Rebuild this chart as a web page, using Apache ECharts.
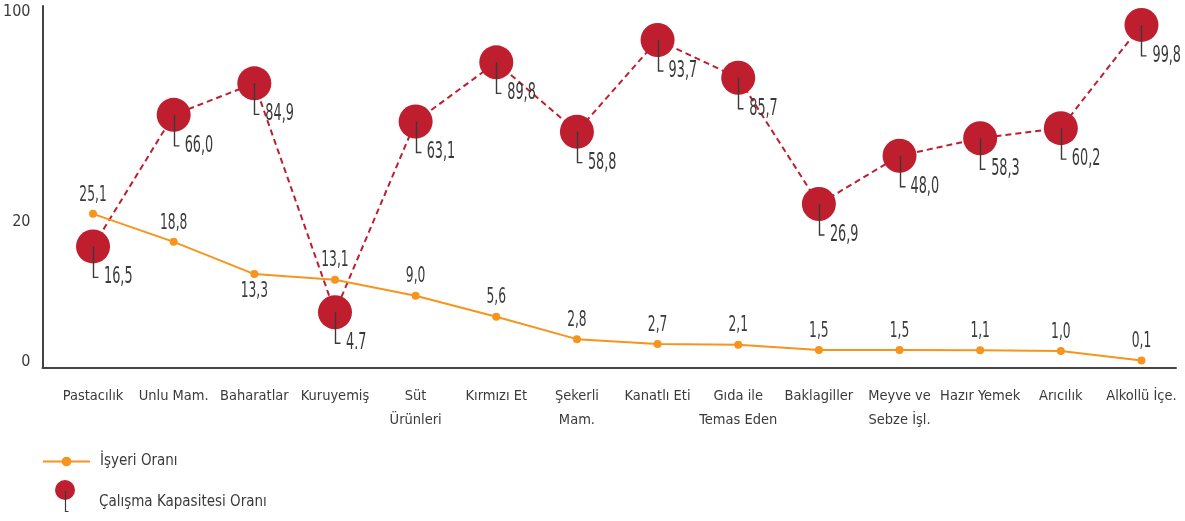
<!DOCTYPE html>
<html>
<head>
<meta charset="utf-8">
<title>İşyeri ve Çalışma Kapasitesi Oranı</title>
<script src="https://cdn.jsdelivr.net/npm/echarts@6/dist/echarts.min.js"></script>
<style>
    html, body { margin: 0; padding: 0; background: #fff; }
    #chart { width: 1185px; height: 521px; }
</style>
</head>
<body>
<div id="chart"></div>
<script>
    var categories = ['Pastacılık', 'Unlu Mam.', 'Baharatlar', 'Kuruyemiş', 'Süt\nÜrünleri', 'Kırmızı Et', 'Şekerli\nMam.',
        'Kanatlı Eti', 'Gıda ile\nTemas Eden', 'Baklagiller', 'Meyve ve\nSebze İşl.', 'Hazır Yemek', 'Arıcılık', 'Alkollü İçe.'];

    // İşyeri Oranı: printed values, and the heights the points sit at on the drawn axis
    var shopLabels = ['25,1', '18,8', '13,3', '13,1', '9,0', '5,6', '2,8', '2,7', '2,1', '1,5', '1,5', '1,1', '1,0', '0,1'];
    var shopHeights = [42.3, 34.3, 25.1, 23.5, 18.9, 12.9, 6.5, 5.1, 4.9, 3.4, 3.4, 3.3, 3.1, 0.4];

    // Çalışma Kapasitesi Oranı
    var capLabels = ['16,5', '66,0', '84,9', '4.7', '63,1', '89,8', '58,8', '93,7', '85,7', '26,9', '48,0', '58,3', '60,2', '99,8'];
    var capHeights = [33.0, 70.6, 79.6, 14.2, 68.7, 85.6, 65.8, 92.0, 81.2, 45.1, 58.9, 63.9, 66.8, 96.3];

    // y axis: where the printed ticks sit, and what they say
    var yTickValues = [0, 40, 100];
    var yTickLabels = ['0', '20', '100'];

    var FONT = "'Liberation Sans Narrow', 'DejaVu Sans Condensed', sans-serif";
    var ORANGE = '#f7941d';
    var RED = '#be1e2d';
    var INK = '#3a3a3a';

    var chart = echarts.init(document.getElementById('chart'));

    var below = [2]; // Baharatlar label goes under its point

    function shopText(params, api) {
        var p = api.coord([api.value(0), api.value(1)]);
        var i = params.dataIndex;
        var down = below.indexOf(i) >= 0;
        return {
            type: 'text',
            x: p[0],
            y: p[1] + (down ? 17 : -19),
            scaleX: 0.62,
            style: {
                text: shopLabels[i], fontSize: 22, fontFamily: FONT, fill: INK,
                align: 'center', verticalAlign: 'middle'
            }
        };
    }

    function capCallout(params, api) {
        var p = api.coord([api.value(0), api.value(1)]);
        var i = params.dataIndex;
        var x = Math.round(p[0]) + 0.5;
        return {
            type: 'group',
            children: [
                {
                    type: 'polyline',
                    shape: { points: [[x, p[1]], [x, p[1] + 31], [x + 5, p[1] + 31]] },
                    style: { stroke: INK, lineWidth: 1.4, fill: null }
                },
                {
                    type: 'text',
                    x: p[0] + 11,
                    y: p[1] + 31,
                    scaleX: 0.62,
                    style: {
                        text: capLabels[i], fontSize: 23, fontFamily: FONT, fill: INK,
                        align: 'left', verticalAlign: 'middle'
                    }
                }
            ]
        };
    }

    var capIconSvg = '<svg xmlns="http://www.w3.org/2000/svg" width="47" height="46" viewBox="0 0 47 46">' +
        '<circle cx="23" cy="11" r="10" fill="' + RED + '"/>' +
        '<path d="M23.5 12V32.5H26.5" stroke="' + INK + '" stroke-width="1.2" fill="none"/></svg>';
    var capIcon = 'image://data:image/svg+xml;charset=utf-8,' + encodeURIComponent(capIconSvg);

    var shopPoints = shopHeights.map(function (v, i) { return [i, v]; });
    var capPoints = capHeights.map(function (v, i) { return [i, v]; });

    var option = {
        animation: false,
        grid: [
            { left: 52.7, right: 3.2, top: 6, bottom: 153.5 },
            { left: 42, right: 9, top: 6, bottom: 153.5 }
        ],
        legend: [
            {
                data: ['İşyeri Oranı'],
                left: 42, top: 454, padding: 0,
                itemWidth: 47, itemHeight: 12,
                textStyle: { fontSize: 15, fontFamily: FONT, color: INK, padding: [0, 0, 0, 5] }
            },
            {
                data: [{ name: 'Çalışma Kapasitesi Oranı', icon: capIcon }],
                left: 42, top: 479, padding: 0,
                itemWidth: 47, itemHeight: 46,
                textStyle: { fontSize: 15, fontFamily: FONT, color: INK, padding: [0, 0, 0, 5] }
            }
        ],
        xAxis: [
            {
                type: 'category',
                gridIndex: 0,
                data: categories,
                axisLine: { show: false },
                axisTick: { show: false },
                axisLabel: {
                    interval: 0, margin: 16, fontSize: 14.5, lineHeight: 24.5,
                    color: INK, fontFamily: FONT
                }
            },
            {
                type: 'value',
                gridIndex: 1,
                min: 0, max: 1,
                axisLine: { show: true, onZero: false, lineStyle: { color: '#444', width: 2 } },
                axisTick: { show: false },
                axisLabel: { show: false },
                splitLine: { show: false }
            }
        ],
        yAxis: [
            {
                type: 'value',
                gridIndex: 0,
                min: -1.6, max: 101.7,
                show: false
            },
            {
                type: 'value',
                gridIndex: 1,
                min: -1.6, max: 101.7,
                axisLine: { show: true, onZero: false, lineStyle: { color: '#444', width: 2 } },
                axisTick: { show: false },
                splitLine: { show: false },
                axisLabel: {
                    customValues: yTickValues,
                    margin: 12, fontSize: 16, color: INK, fontFamily: FONT,
                    formatter: function (v) {
                        var k = yTickValues.indexOf(v);
                        return k < 0 ? '' : yTickLabels[k];
                    }
                }
            }
        ],
        series: [
            {
                name: 'Çalışma Kapasitesi Oranı',
                type: 'line',
                xAxisIndex: 0, yAxisIndex: 0,
                data: capPoints,
                symbol: 'circle',
                symbolSize: 34,
                lineStyle: { color: RED, width: 2, type: [6, 4] },
                itemStyle: { color: RED },
                z: 2
            },
            {
                name: 'İşyeri Oranı',
                type: 'line',
                xAxisIndex: 0, yAxisIndex: 0,
                data: shopPoints,
                symbol: 'circle',
                symbolSize: 8,
                lineStyle: { color: ORANGE, width: 2 },
                itemStyle: { color: ORANGE },
                z: 3
            },
            {
                name: 'Çalışma Kapasitesi Oranı',
                type: 'custom',
                xAxisIndex: 0, yAxisIndex: 0,
                data: capPoints,
                renderItem: capCallout,
                clip: false,
                z: 4
            },
            {
                name: 'İşyeri Oranı',
                type: 'custom',
                xAxisIndex: 0, yAxisIndex: 0,
                data: shopPoints,
                renderItem: shopText,
                clip: false,
                z: 4
            }
        ]
    };

    chart.setOption(option);
</script>
</body>
</html>
